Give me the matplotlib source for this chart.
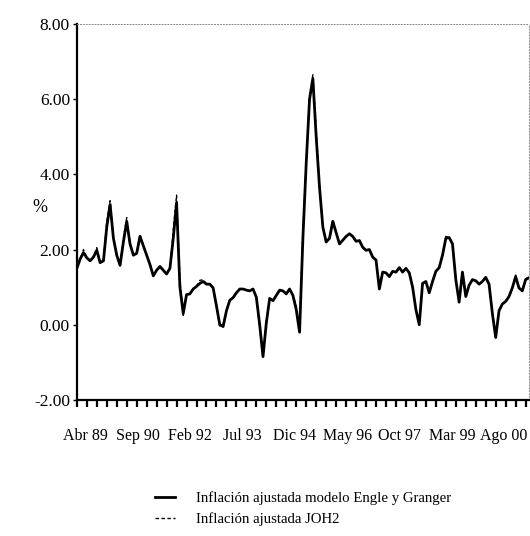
import numpy as np
import matplotlib
matplotlib.use("Agg")
import matplotlib.pyplot as plt

# Serie mensual Abr 89 - Ago 00 (137 observaciones)
ETIQUETAS = ["Abr 89", "Sep 90", "Feb 92", "Jul 93", "Dic 94",
             "May 96", "Oct 97", "Mar 99", "Ago 00"]

engle_granger = [
    1.50, 1.75, 1.92, 1.78, 1.70, 1.80, 1.98, 1.65, 1.70, 2.60,
    3.20, 2.30, 1.85, 1.58, 2.20, 2.75, 2.15, 1.85, 1.90, 2.35,
    2.10, 1.85, 1.60, 1.30, 1.45, 1.55, 1.45, 1.35, 1.50, 2.30,
    3.25, 1.00, 0.30, 0.80, 0.82, 0.95, 1.02, 1.10, 1.15, 1.08,
    1.08, 0.98, 0.50, 0.00, -0.05, 0.37, 0.65, 0.72, 0.85, 0.95,
    0.95, 0.92, 0.90, 0.95, 0.73, 0.00, -0.85, 0.05, 0.70, 0.64,
    0.78, 0.92, 0.90, 0.82, 0.95, 0.78, 0.40, -0.20, 2.30, 4.30,
    6.00, 6.55, 5.00, 3.66, 2.60, 2.20, 2.30, 2.75, 2.45, 2.15,
    2.25, 2.35, 2.42, 2.35, 2.22, 2.24, 2.06, 1.98, 2.00, 1.80,
    1.72, 0.95, 1.40, 1.38, 1.28, 1.42, 1.40, 1.52, 1.40, 1.50,
    1.38, 1.00, 0.40, 0.00, 1.10, 1.15, 0.85, 1.15, 1.42, 1.52,
    1.85, 2.30, 2.32, 2.15, 1.20, 0.60, 1.40, 0.75, 1.05, 1.20,
    1.17, 1.08, 1.15, 1.26, 1.08, 0.30, -0.34, 0.37, 0.55, 0.62,
    0.75, 0.98, 1.28, 0.98, 0.90, 1.20, 1.25,
]

joh2 = [
    1.50, 1.75, 2.00, 1.78, 1.70, 1.80, 2.05, 1.65, 1.70, 2.75,
    3.30, 2.30, 1.85, 1.58, 2.30, 2.85, 2.15, 1.85, 1.90, 2.40,
    2.10, 1.85, 1.60, 1.30, 1.45, 1.55, 1.45, 1.35, 1.50, 2.50,
    3.45, 1.20, 0.25, 0.80, 0.82, 0.95, 1.02, 1.18, 1.20, 1.08,
    1.08, 0.98, 0.50, -0.05, 0.00, 0.37, 0.65, 0.72, 0.85, 0.95,
    0.95, 0.92, 0.90, 0.95, 0.73, -0.10, -0.80, 0.05, 0.70, 0.64,
    0.78, 0.92, 0.90, 0.82, 0.95, 0.78, 0.50, -0.10, 2.50, 4.30,
    6.10, 6.65, 5.20, 3.66, 2.60, 2.20, 2.30, 2.80, 2.45, 2.15,
    2.25, 2.35, 2.42, 2.35, 2.22, 2.24, 2.06, 1.98, 2.00, 1.80,
    1.72, 1.00, 1.40, 1.38, 1.28, 1.42, 1.40, 1.52, 1.40, 1.50,
    1.38, 1.00, 0.40, 0.10, 1.10, 1.15, 0.85, 1.15, 1.42, 1.52,
    1.85, 2.35, 2.32, 2.15, 1.20, 0.70, 1.40, 0.75, 1.05, 1.20,
    1.17, 1.08, 1.15, 1.26, 1.08, 0.30, -0.25, 0.37, 0.55, 0.62,
    0.75, 0.98, 1.32, 0.98, 0.90, 1.20, 1.30,
]

meses = np.arange(len(engle_granger))

plt.rcParams["font.family"] = ["Liberation Serif", "DejaVu Serif"]

fig = plt.figure(figsize=(5.30, 5.36), dpi=100)
ax = fig.add_axes([0.145, 0.254, 0.853, 0.701])

ax.plot(meses, engle_granger, color="black", lw=2.0, solid_joinstyle="round",
        label="Inflación ajustada modelo Engle y Granger")
ax.plot(meses, joh2, color="black", lw=1.0, dashes=(2.5, 1.8),
        label="Inflación ajustada JOH2")

ax.set_xlim(0, len(meses) - 1)
ax.set_ylim(-2, 8)

# ejes
for s in ["left", "bottom"]:
    ax.spines[s].set_linewidth(1.6)
for s in ["top", "right"]:
    ax.spines[s].set_linestyle((0, (1, 2)))
    ax.spines[s].set_linewidth(0.7)
    ax.spines[s].set_color("#888888")

ax.set_yticks([-2, 0, 2, 4, 6, 8])
ax.set_yticklabels([f"{v:.2f}" for v in [-2, 0, 2, 4, 6, 8]], fontsize=12.5)
ax.tick_params(axis="y", direction="out", length=3, width=1, pad=2)

# marcas trimestrales y etiquetas
ax.set_xticks(np.arange(0, len(meses), 3), minor=True)
ax.tick_params(axis="x", which="minor", direction="out", length=5, width=1.6)
label_pos = 2.7 + 15.73 * np.arange(len(ETIQUETAS))
ax.set_xticks(label_pos)
ax.set_xticklabels(ETIQUETAS, fontsize=11.5)
ax.tick_params(axis="x", which="major", length=0, pad=20)

ax.set_ylabel("%", rotation=0, fontsize=13, va="center", ha="center")
ax.yaxis.set_label_coords(-0.082, 0.513)

fig.legend(loc="upper left", bbox_to_anchor=(155 / 530, 1 - 491 / 536),
           frameon=False, fontsize=10.6, handlelength=1.35, handletextpad=1.45,
           labelspacing=0.5, borderpad=0, borderaxespad=0)

fig.savefig("out.png", dpi=100)
